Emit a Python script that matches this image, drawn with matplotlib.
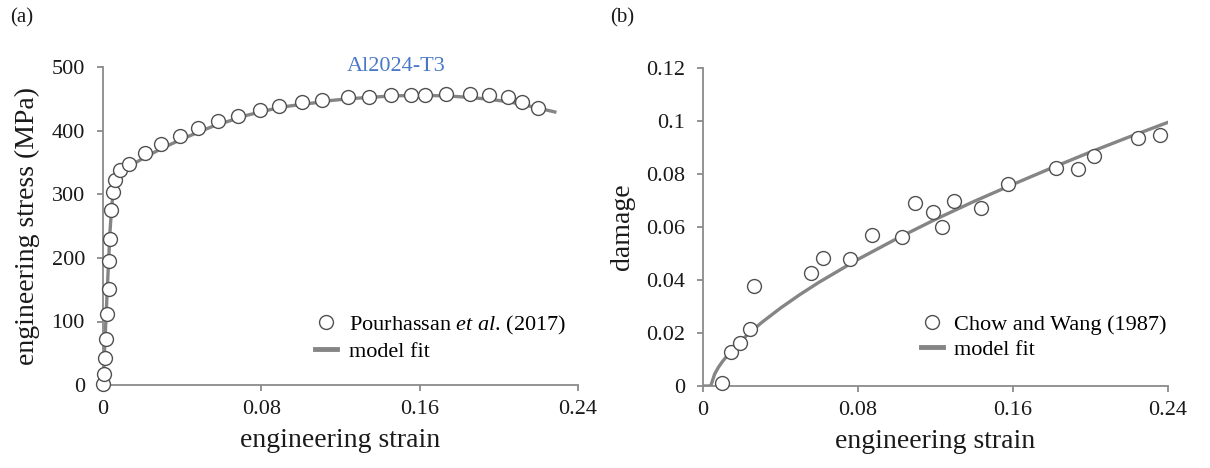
import matplotlib
matplotlib.use("Agg")
import matplotlib.pyplot as plt
from matplotlib.lines import Line2D

plt.rcParams['font.family'] = ['Liberation Serif', 'DejaVu Serif']
plt.rcParams['mathtext.fontset'] = 'custom'
plt.rcParams['mathtext.rm'] = 'Liberation Serif'
plt.rcParams['mathtext.it'] = 'Liberation Serif:italic'

# ---------------- data: panel (a) ----------------
strain_a = [0.0, 0.0005, 0.0008, 0.0013, 0.0019, 0.0028, 0.003, 0.0037, 0.0042, 0.0049,
            0.0061, 0.0084, 0.0132, 0.021, 0.0294, 0.0387, 0.0481, 0.0583, 0.0683, 0.0792,
            0.0889, 0.1004, 0.1108, 0.124, 0.1345, 0.1453, 0.1558, 0.1625, 0.1734, 0.1855,
            0.195, 0.2045, 0.2119, 0.2196]
stress_a = [2, 18, 42, 72, 112, 151, 195, 230, 275, 304,
            323, 338, 348, 366, 380, 392, 404, 416, 424, 433,
            439, 445, 449, 454, 454, 456, 456, 457, 459, 458,
            457, 454, 446, 437]
fit_strain_a = [0, 0.002, 0.0035, 0.0045, 0.0055, 0.0065, 0.008, 0.0105, 0.0135, 0.022,
                0.03, 0.039, 0.048, 0.056, 0.065, 0.073, 0.081, 0.089, 0.098, 0.106,
                0.115, 0.125, 0.135, 0.145, 0.155, 0.165, 0.175, 0.185, 0.195, 0.205,
                0.213, 0.22, 0.2283]
fit_stress_a = [0, 140, 240, 285, 308, 320, 331, 339, 345, 360,
                373, 386, 398, 408, 417, 425, 431, 437, 441, 444,
                448, 451, 453, 455, 456, 456, 455, 453, 450, 446,
                441, 436, 430]

# ---------------- data: panel (b) ----------------
strain_b = [0.0098, 0.0145, 0.0189, 0.0245, 0.0261, 0.0555, 0.0617, 0.076, 0.0872, 0.1025,
            0.1095, 0.1186, 0.1232, 0.1296, 0.1437, 0.1576, 0.1823, 0.1936, 0.202, 0.2243,
            0.2358]
damage_b = [0.001, 0.013, 0.0161, 0.0214, 0.0378, 0.0426, 0.0482, 0.0478, 0.0569, 0.0564,
            0.0691, 0.0657, 0.0601, 0.0698, 0.0671, 0.0763, 0.0824, 0.082, 0.0868, 0.0937,
            0.0947]
fit_strain_b = [0, 0.004, 0.006, 0.008, 0.01, 0.015, 0.02, 0.03, 0.04, 0.05,
                0.06, 0.08, 0.10, 0.12, 0.14, 0.16, 0.18, 0.20, 0.22, 0.24]
fit_damage_b = [0, 0, 0.0045, 0.0071, 0.0092, 0.0137, 0.0174, 0.0238, 0.0294, 0.0345,
                0.0392, 0.0478, 0.0556, 0.0629, 0.0697, 0.0761, 0.0823, 0.0883, 0.0940, 0.0995]

xticks = [0, 0.08, 0.16, 0.24]
xticklabels = ['0', '0.08', '0.16', '0.24']
yticks_a = [0, 100, 200, 300, 400, 500]
yticks_b = [0, 0.02, 0.04, 0.06, 0.08, 0.1, 0.12]
yticklabels_b = ['0', '0.02', '0.04', '0.06', '0.08', '0.1', '0.12']

spine_c = '#8a8a8a'
line_c = '#858585'
edge_c = '#505050'
text_c = '#1a1a1a'

fig = plt.figure(figsize=(12.1, 4.68), dpi=100)
ax1 = fig.add_axes([103/1210, 1-385/468, (578-103)/1210, (385-67.5)/468])
ax2 = fig.add_axes([703/1210, 1-386/468, (1168-703)/1210, (386-68)/468])

def style(ax):
    for s in ['top', 'right']:
        ax.spines[s].set_visible(False)
    for s in ['left', 'bottom']:
        ax.spines[s].set_color(spine_c)
        ax.spines[s].set_linewidth(1.3)
    ax.tick_params(axis='both', direction='out', length=4, width=1.3, color=spine_c,
                   labelsize=16, labelcolor=text_c)
    ax.tick_params(axis='y', pad=9)
    ax.tick_params(axis='x', pad=7)
    ax.set_xlim(0, 0.24)
    ax.set_xticks(xticks)
    ax.set_xticklabels(xticklabels)
    ax.set_xlabel('engineering strain', fontsize=20, color=text_c, labelpad=6)

marker_kw = dict(marker='o', markersize=10, markerfacecolor='white',
                 markeredgecolor=edge_c, markeredgewidth=1.0, linestyle='none')

# panel a
ax1.plot(fit_strain_a, fit_stress_a, color=line_c, lw=2.4, zorder=2)
ax1.plot(strain_a, stress_a, zorder=3, clip_on=False, **marker_kw)
style(ax1)
ax1.set_ylim(0, 500)
ax1.set_yticks(yticks_a)
ax1.set_ylabel('engineering stress (MPa)', fontsize=20, color=text_c, labelpad=8)
ax1.text(0.148, 502, 'Al2024-T3', color='#4a78c8', fontsize=16, ha='center', va='center')

# panel b
ax2.plot(fit_strain_b, fit_damage_b, color=line_c, lw=2.4, zorder=2)
ax2.plot(strain_b, damage_b, zorder=3, clip_on=False, **marker_kw)
style(ax2)
ax2.set_ylim(0, 0.12)
ax2.set_yticks(yticks_b)
ax2.set_yticklabels(yticklabels_b)
ax2.set_ylabel('damage', fontsize=20, color=text_c, labelpad=8)

def legend(ax, label, anchor):
    h1 = Line2D([], [], marker='o', markersize=10, markerfacecolor='white',
                markeredgecolor=edge_c, markeredgewidth=1.0, linestyle='none')
    h2 = Line2D([], [], color=line_c, lw=3.5)
    ax.legend([h1, h2], [label, 'model fit'], loc='upper left', bbox_to_anchor=anchor,
              frameon=False, fontsize=16, handlelength=1.0, handletextpad=0.52,
              labelspacing=0.21, borderaxespad=0)

legend(ax1, r'Pourhassan $\it{et\ al}$. (2017)', (0.428, 0.253))
legend(ax2, 'Chow and Wang (1987)', (0.449, 0.253))

fig.text(10/1210, 1-18/468, '(a)', fontsize=15, color=text_c, va='center', ha='left')
fig.text(610/1210, 1-18/468, '(b)', fontsize=15, color=text_c, va='center', ha='left')

fig.savefig('out.png', dpi=100)
